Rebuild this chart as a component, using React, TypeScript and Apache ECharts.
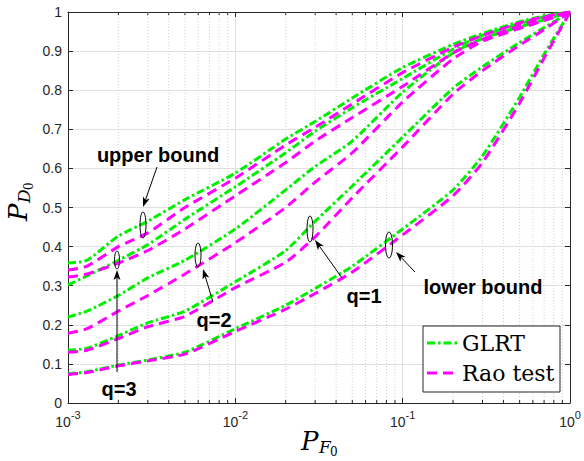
import React, { useEffect, useRef } from "react";
import * as echarts from "echarts";

// ---- data ----
const pf = [0.001, 0.0013, 0.002, 0.003, 0.005, 0.01, 0.02, 0.03, 0.05, 0.1, 0.2, 0.3, 0.5, 0.7, 1];

const glrtUpper = [0.358, 0.365, 0.427, 0.465, 0.52, 0.588, 0.675, 0.72, 0.78, 0.858, 0.917, 0.945, 0.975, 0.99, 1];
const raoUpper = [0.34, 0.35, 0.4, 0.435, 0.5, 0.575, 0.66, 0.705, 0.765, 0.845, 0.91, 0.94, 0.972, 0.988, 1];
const glrtQ3 = [0.302, 0.325, 0.365, 0.405, 0.47, 0.553, 0.64, 0.695, 0.755, 0.83, 0.905, 0.94, 0.97, 0.988, 1];
const raoQ3 = [0.322, 0.33, 0.358, 0.39, 0.445, 0.53, 0.615, 0.67, 0.73, 0.81, 0.895, 0.93, 0.965, 0.985, 1];
const glrtQ2 = [0.22, 0.235, 0.275, 0.32, 0.365, 0.445, 0.545, 0.605, 0.67, 0.795, 0.895, 0.932, 0.962, 0.98, 1];
const raoQ2 = [0.178, 0.19, 0.235, 0.275, 0.33, 0.41, 0.5, 0.565, 0.64, 0.77, 0.88, 0.925, 0.958, 0.978, 1];
const glrtQ1 = [0.135, 0.14, 0.172, 0.205, 0.235, 0.31, 0.39, 0.465, 0.555, 0.68, 0.805, 0.86, 0.922, 0.96, 1];
const raoQ1 = [0.13, 0.135, 0.165, 0.195, 0.222, 0.295, 0.36, 0.425, 0.525, 0.655, 0.79, 0.85, 0.915, 0.955, 1];
const glrtLower = [0.075, 0.08, 0.097, 0.11, 0.13, 0.19, 0.25, 0.293, 0.35, 0.445, 0.545, 0.632, 0.782, 0.892, 1];
const raoLower = [0.073, 0.078, 0.095, 0.108, 0.125, 0.183, 0.24, 0.28, 0.335, 0.43, 0.53, 0.615, 0.767, 0.882, 1];

const minorX = [
  0.002, 0.003, 0.004, 0.005, 0.006, 0.007, 0.008, 0.009,
  0.02, 0.03, 0.04, 0.05, 0.06, 0.07, 0.08, 0.09,
  0.2, 0.3, 0.4, 0.5, 0.6, 0.7, 0.8, 0.9,
];

const legendNames = ["GLRT", "Rao test"];

// ---- styles ----
const GREEN = "#00ee00";
const MAGENTA = "#ff00ff";
const GLRT_DASH = [8, 3, 2.5, 3];
const RAO_DASH = [10, 6];
const AXIS = "#262626";
const GRID = "#e0e0e0";
const SANS = "Liberation Sans, Arial, Helvetica, sans-serif";
const SERIF = "DejaVu Serif, Liberation Serif, serif";

function lineSeries(name: string, values: number[], color: string, dash: number[]) {
  return {
    type: "line",
    name,
    data: pf.map((x, i) => [x, values[i]]),
    showSymbol: false,
    symbol: "none",
    smooth: 0.2,
    z: 3,
    lineStyle: { color, width: 3, type: dash },
  };
}

function arrow(x1: number, y1: number, x2: number, y2: number) {
  const ang = Math.atan2(y2 - y1, x2 - x1);
  const L = 10;
  const W = 3.5;
  const c = Math.cos(ang);
  const s = Math.sin(ang);
  const bx = x2 - L * c;
  const by = y2 - L * s;
  const mx = x2 - 0.75 * L * c;
  const my = y2 - 0.75 * L * s;
  const nx = -s;
  const ny = c;
  return [
    { type: "line", shape: { x1, y1, x2: mx, y2: my }, style: { stroke: "#000", lineWidth: 1 }, z: 10 },
    {
      type: "polygon",
      shape: { points: [[x2, y2], [bx + nx * W, by + ny * W], [mx, my], [bx - nx * W, by - ny * W]] },
      style: { fill: "#000" },
      z: 10,
    },
  ];
}

function ellipse(cx: number, cy: number, rx: number, ry: number) {
  return { type: "ellipse", shape: { cx, cy, rx, ry }, style: { fill: "none", stroke: "#000", lineWidth: 1 }, z: 10 };
}

function label(text: string, x: number, y: number) {
  return {
    type: "text",
    x,
    y,
    z: 10,
    style: { text, fontFamily: SANS, fontWeight: "bold", fontSize: 20, fill: "#000", align: "center", verticalAlign: "middle" },
  };
}

export default function App() {
  const ref = useRef<HTMLDivElement>(null);

  useEffect(() => {
    if (!ref.current) return;
    const chart = echarts.init(ref.current, undefined, { renderer: "svg" });

    const option: any = {
      animation: false,
      backgroundColor: "#fff",
      grid: { left: 68, right: 14, top: 12, bottom: 58 },
      xAxis: [
        {
          type: "log",
          logBase: 10,
          min: 0.001,
          max: 1,
          position: "bottom",
          axisLine: { show: true, onZero: false, lineStyle: { color: AXIS, width: 1 } },
          axisTick: { show: true, inside: true, length: 5, lineStyle: { color: AXIS } },
          splitLine: { show: true, lineStyle: { color: GRID, width: 1 } },
          axisLabel: {
            margin: 6,
            formatter: (v: number) => `{b|10}{e|${Math.round(Math.log10(v))}}`,
            rich: {
              b: { fontSize: 14, fontFamily: SANS, color: AXIS, lineHeight: 20, verticalAlign: "bottom" },
              e: { fontSize: 11, fontFamily: SANS, color: AXIS, verticalAlign: "top" },
            },
          },
        },
        {
          type: "log",
          logBase: 10,
          min: 0.001,
          max: 1,
          position: "top",
          axisLine: { show: true, onZero: false, lineStyle: { color: AXIS, width: 1 } },
          axisTick: { show: true, inside: true, length: 5, lineStyle: { color: AXIS } },
          splitLine: { show: false },
          axisLabel: { show: false },
        },
      ],
      yAxis: [
        {
          type: "value",
          min: 0,
          max: 1,
          interval: 0.1,
          position: "left",
          axisLine: { show: true, onZero: false, lineStyle: { color: AXIS, width: 1 } },
          axisTick: { show: true, inside: true, length: 5, lineStyle: { color: AXIS } },
          splitLine: { show: true, lineStyle: { color: GRID, width: 1 } },
          axisLabel: {
            margin: 6,
            fontSize: 14,
            fontFamily: SANS,
            color: AXIS,
            formatter: (v: number) => String(+v.toFixed(1)),
          },
        },
        {
          type: "value",
          min: 0,
          max: 1,
          interval: 0.1,
          position: "right",
          axisLine: { show: true, onZero: false, lineStyle: { color: AXIS, width: 1 } },
          axisTick: { show: true, inside: true, length: 5, lineStyle: { color: AXIS } },
          splitLine: { show: false },
          axisLabel: { show: false },
        },
      ],
      series: [
        {
          type: "custom",
          silent: true,
          z: 1,
          data: minorX.map((v) => [v, 0]),
          encode: { x: 0, y: 1 },
          renderItem: (_p: any, api: any) => {
            const x = api.value(0);
            const b = api.coord([x, 0]);
            const t = api.coord([x, 1]);
            return {
              type: "group",
              children: [
                { type: "line", shape: { x1: b[0], y1: b[1], x2: t[0], y2: t[1] }, style: { stroke: "#d0d0d0", lineWidth: 1, lineDash: [1, 2] } },
                { type: "line", shape: { x1: b[0], y1: b[1], x2: b[0], y2: b[1] - 3 }, style: { stroke: AXIS, lineWidth: 1 } },
                { type: "line", shape: { x1: t[0], y1: t[1], x2: t[0], y2: t[1] + 3 }, style: { stroke: AXIS, lineWidth: 1 } },
              ],
            };
          },
        },
        lineSeries(legendNames[0], glrtUpper, GREEN, GLRT_DASH),
        lineSeries(legendNames[0], glrtQ3, GREEN, GLRT_DASH),
        lineSeries(legendNames[0], glrtQ2, GREEN, GLRT_DASH),
        lineSeries(legendNames[0], glrtQ1, GREEN, GLRT_DASH),
        lineSeries(legendNames[0], glrtLower, GREEN, GLRT_DASH),
        lineSeries(legendNames[1], raoUpper, MAGENTA, RAO_DASH),
        lineSeries(legendNames[1], raoQ3, MAGENTA, RAO_DASH),
        lineSeries(legendNames[1], raoQ2, MAGENTA, RAO_DASH),
        lineSeries(legendNames[1], raoQ1, MAGENTA, RAO_DASH),
        lineSeries(legendNames[1], raoLower, MAGENTA, RAO_DASH),
      ],
      graphic: [
        // y-axis name P_{D_0}
        {
          type: "group",
          x: 18,
          y: 201,
          rotation: Math.PI / 2,
          children: [
            { type: "text", x: -20, y: 0, style: { text: "P", fontFamily: SERIF, fontStyle: "italic", fontSize: 26, fill: "#000", verticalAlign: "middle" } },
            { type: "text", x: -2, y: 6, style: { text: "D", fontFamily: SERIF, fontStyle: "italic", fontSize: 17, fill: "#000", verticalAlign: "middle" } },
            { type: "text", x: 11, y: 11, style: { text: "0", fontFamily: SERIF, fontSize: 12, fill: "#000", verticalAlign: "middle" } },
          ],
        },
        // x-axis name P_{F_0}
        {
          type: "group",
          x: 321,
          y: 441,
          children: [
            { type: "text", x: -20, y: 0, style: { text: "P", fontFamily: SERIF, fontStyle: "italic", fontSize: 26, fill: "#000", verticalAlign: "middle" } },
            { type: "text", x: -2, y: 6, style: { text: "F", fontFamily: SERIF, fontStyle: "italic", fontSize: 17, fill: "#000", verticalAlign: "middle" } },
            { type: "text", x: 9, y: 11, style: { text: "0", fontFamily: SERIF, fontSize: 12, fill: "#000", verticalAlign: "middle" } },
          ],
        },
        // annotations
        ellipse(143, 225, 3, 13),
        ellipse(117, 260, 2.5, 9),
        ellipse(198, 255, 3, 12),
        ellipse(310, 229, 3, 13),
        ellipse(389, 245, 3.5, 13),
        ...arrow(157, 167, 143, 207),
        ...arrow(117, 372, 117, 270),
        ...arrow(213, 302, 203, 269),
        ...arrow(342, 278, 315, 240),
        ...arrow(415, 272, 396, 252),
        label("upper bound", 158, 155),
        label("q=3", 119, 389),
        label("q=2", 214, 320),
        label("q=1", 364, 296),
        label("lower bound", 483, 287),
        // legend
        { type: "rect", shape: { x: 423, y: 326, width: 137, height: 66 }, style: { fill: "#fff", stroke: AXIS, lineWidth: 1 }, z: 20 },
        { type: "line", shape: { x1: 427, y1: 343, x2: 458, y2: 343 }, style: { stroke: GREEN, lineWidth: 3, lineDash: GLRT_DASH }, z: 21 },
        { type: "text", x: 462, y: 343, z: 21, style: { text: legendNames[0], fontFamily: SERIF, fontSize: 22, fill: "#000", verticalAlign: "middle" } },
        { type: "line", shape: { x1: 427, y1: 373, x2: 458, y2: 373 }, style: { stroke: MAGENTA, lineWidth: 3, lineDash: RAO_DASH }, z: 21 },
        { type: "text", x: 462, y: 373, z: 21, style: { text: legendNames[1], fontFamily: SERIF, fontSize: 22, fill: "#000", verticalAlign: "middle" } },
      ],
    };

    chart.setOption(option);
    return () => chart.dispose();
  }, []);

  return (
    <div
      ref={ref}
      style={{ position: "fixed", left: 0, top: 0, width: 584, height: 461, background: "#fff" }}
    />
  );
}
